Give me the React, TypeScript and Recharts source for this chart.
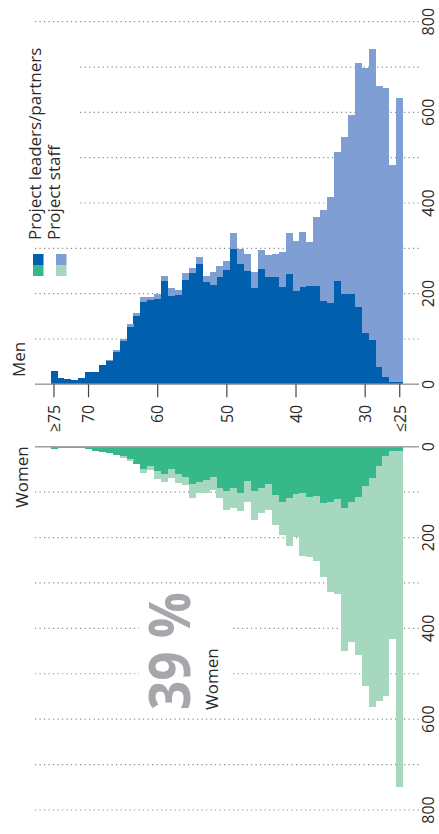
import { Bar, BarChart, CartesianGrid, XAxis, YAxis } from "recharts";

const ages = [
  "≥75", "74", "73", "72", "71", "70", "69", "68", "67", "66",
  "65", "64", "63", "62", "61", "60", "59", "58", "57", "56",
  "55", "54", "53", "52", "51", "50", "49", "48", "47", "46",
  "45", "44", "43", "42", "41", "40", "39", "38", "37", "36",
  "35", "34", "33", "32", "31", "30", "29", "28", "27", "26", "≤25",
];

const menLeaders = [
  30, 14, 12, 10, 15, 27, 27, 42, 52, 71,
  95, 127, 150, 181, 185, 188, 227, 194, 196, 230,
  246, 265, 226, 219, 236, 252, 298, 265, 249, 213,
  254, 236, 236, 214, 243, 205, 215, 216, 216, 183,
  180, 227, 200, 200, 171, 114, 98, 39, 16, 6, 6,
];
const menStaff = [
  0, 0, 0, 0, 0, 0, 0, 0, 2, 4,
  6, 6, 7, 11, 7, 11, 11, 19, 12, 16,
  11, 15, 12, 28, 24, 19, 35, 33, 38, 34,
  42, 49, 51, 77, 90, 112, 122, 99, 154, 201,
  234, 286, 345, 394, 538, 584, 641, 620, 637, 477, 626,
];

const womenLeaders = [
  4, 2, 3, 3, 3, 6, 9, 12, 13, 18,
  21, 28, 37, 50, 42, 54, 61, 49, 60, 66,
  82, 77, 73, 67, 90, 97, 92, 101, 75, 97,
  92, 82, 106, 121, 114, 104, 103, 111, 108, 123,
  121, 115, 134, 121, 110, 86, 70, 42, 20, 9, 9,
];
const womenStaff = [
  0, 0, 0, 0, 0, 0, 0, 0, 0, 0,
  3, 3, 2, 9, 9, 17, 16, 21, 21, 18,
  32, 24, 28, 28, 24, 42, 44, 40, 46, 64,
  55, 57, 66, 73, 104, 95, 137, 131, 143, 163,
  200, 209, 315, 308, 348, 440, 503, 519, 528, 414, 740,
];

const ageTicks = ["≥75", "70", "60", "50", "40", "30", "≤25"];
const valueTicks = [0, 100, 200, 300, 400, 500, 600, 700, 800];
const valueLabels = [0, 200, 400, 600, 800];

const menData = ages.map((age, i) => ({ age, leaders: menLeaders[i], staff: menStaff[i] }));
const womenData = ages.map((age, i) => ({ age, leaders: womenLeaders[i], staff: womenStaff[i] }));

const FONT = "'Open Sans', 'Noto Sans', sans-serif";
const MEN_DARK = "#0060ad";
const MEN_LIGHT = "#7f9ed3";
const WOMEN_DARK = "#36b88a";
const WOMEN_LIGHT = "#a6d8c0";
const AXIS = "#a2a2a2";
const TEXT = "#2a2a2a";

// men x-axis baseline sits at y=384.3 inside the men chart
const MEN_BASE = 384.3;

const AgeTick = (props: any) => {
  const { x, payload } = props;
  if (!ageTicks.includes(payload.value)) return null;
  return (
    <g>
      <line x1={x} x2={x} y1={MEN_BASE} y2={MEN_BASE + 13} stroke="#444" strokeWidth={1.2} />
      <text
        transform={`translate(${x},${MEN_BASE + 20.5}) rotate(-90)`}
        textAnchor="end"
        dy="0.36em"
        fontSize={16}
        fontFamily={FONT}
        fill={TEXT}
      >
        {payload.value}
      </text>
    </g>
  );
};

const ValueTick = (props: any) => {
  const { y, payload } = props;
  if (!valueLabels.includes(payload.value)) return null;
  return (
    <text
      transform={`translate(428.5,${y}) rotate(-90)`}
      textAnchor="middle"
      dy="0.36em"
      fontSize={16}
      fontFamily={FONT}
      fill={TEXT}
    >
      {payload.value}
    </text>
  );
};

const VText = ({ x, y, size, fill = TEXT, weight = 400, len, children }: any) => (
  <text
    transform={`translate(${x},${y}) rotate(-90)`}
    fontSize={size}
    fontFamily={FONT}
    fontWeight={weight}
    fill={fill}
    textLength={len}
    lengthAdjust={len ? "spacingAndGlyphs" : undefined}
  >
    {children}
  </text>
);

const gridProps = {
  vertical: false,
  stroke: "#8a8a8a",
  strokeWidth: 1.2,
  strokeDasharray: "1.2 3.3",
};

export default function App() {
  return (
    <div style={{ position: "absolute", left: 0, top: 0, width: 439, height: 834, background: "#fff", fontFamily: FONT }}>
      <div style={{ position: "absolute", left: 0, top: 0 }}>
        <BarChart
          width={439}
          height={440}
          data={menData}
          margin={{ top: 21.7, right: 0, bottom: 0, left: 35 }}
          barCategoryGap={0}
          barGap={0}
        >
          <CartesianGrid {...gridProps} />
          <XAxis
            dataKey="age"
            interval={0}
            height={55.7}
            padding={{ left: 15.5, right: 15.8 }}
            axisLine={{ stroke: AXIS, strokeWidth: 1.5 }}
            tickLine={false}
            tick={<AgeTick />}
          />
          <YAxis
            orientation="right"
            width={20}
            domain={[0, 800]}
            ticks={valueTicks}
            axisLine={false}
            tickLine={false}
            tick={<ValueTick />}
          />
          <Bar dataKey="leaders" stackId="m" fill={MEN_DARK} shapeRendering="crispEdges" isAnimationActive={false} />
          <Bar dataKey="staff" stackId="m" fill={MEN_LIGHT} shapeRendering="crispEdges" isAnimationActive={false} />
        </BarChart>
      </div>
      <div style={{ position: "absolute", left: 0, top: 420 }}>
        <BarChart
          width={439}
          height={414}
          data={womenData}
          margin={{ top: 25.7, right: 0, bottom: 24, left: 35 }}
          barCategoryGap={0}
          barGap={0}
        >
          <CartesianGrid {...gridProps} />
          <XAxis
            dataKey="age"
            orientation="top"
            interval={0}
            height={1}
            padding={{ left: 15.5, right: 15.8 }}
            axisLine={{ stroke: AXIS, strokeWidth: 1.5 }}
            tickLine={false}
            tick={false}
          />
          <YAxis
            orientation="right"
            reversed
            width={20}
            domain={[0, 800]}
            ticks={valueTicks}
            axisLine={false}
            tickLine={false}
            tick={<ValueTick />}
          />
          <Bar dataKey="leaders" stackId="w" fill={WOMEN_DARK} shapeRendering="crispEdges" isAnimationActive={false} />
          <Bar dataKey="staff" stackId="w" fill={WOMEN_LIGHT} shapeRendering="crispEdges" isAnimationActive={false} />
        </BarChart>
      </div>
      <svg width={439} height={834} style={{ position: "absolute", left: 0, top: 0, pointerEvents: "none" }}>
        {/* legend */}
        <rect x={26} y={32} width={54} height={211} fill="#fff" />
        <VText x={40.5} y={240} size={17}>Project leaders/partners</VText>
        <VText x={59.5} y={240} size={17}>Project staff</VText>
        <rect x={33} y={254} width={10.5} height={11} fill={MEN_DARK} />
        <rect x={33} y={265} width={10.5} height={11} fill={WOMEN_DARK} />
        <rect x={56} y={254} width={10.5} height={11} fill={MEN_LIGHT} />
        <rect x={56} y={265} width={10.5} height={11} fill={WOMEN_LIGHT} />

        <VText x={25} y={377} size={17}>Men</VText>
        <VText x={28} y={508} size={17}>Women</VText>

        <rect x={139} y={588} width={93} height={125} fill="#fff" />
        <VText x={190} y={710} size={57} weight={700} fill="#a6a7aa" len={118}>39 %</VText>
        <VText x={218.3} y={710} size={17}>Women</VText>
      </svg>
    </div>
  );
}
